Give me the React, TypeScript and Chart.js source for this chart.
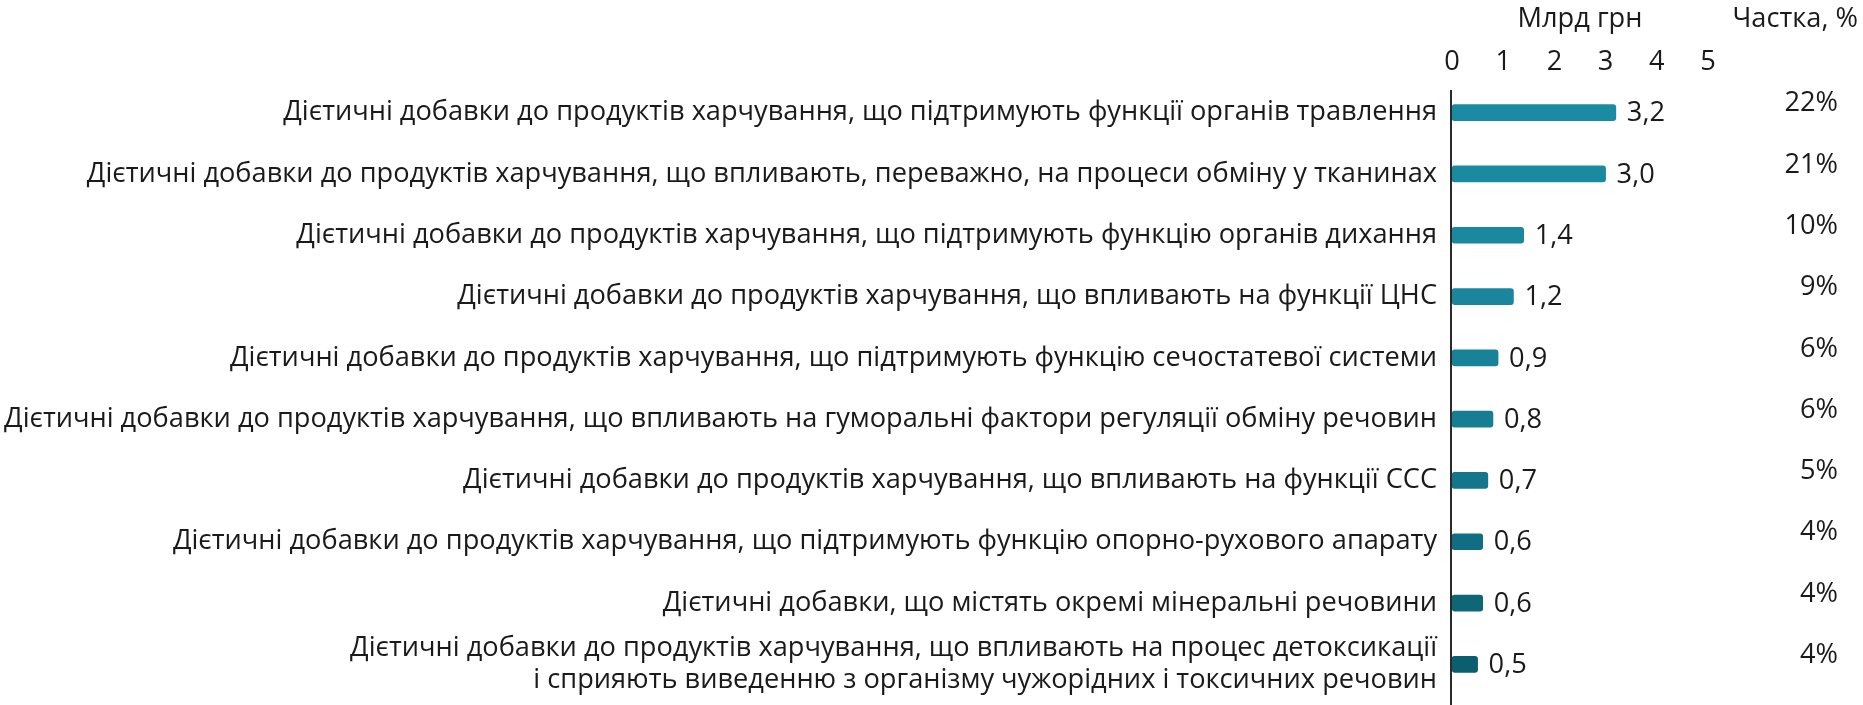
import React, { useEffect, useRef } from "react";
import { Chart, registerables } from "chart.js";

Chart.register(...registerables);

const categories: (string | string[])[] = [
  "Дієтичні добавки до продуктів харчування, що підтримують функції органів травлення",
  "Дієтичні добавки до продуктів харчування, що впливають, переважно, на процеси обміну у тканинах",
  "Дієтичні добавки до продуктів харчування, що підтримують функцію органів дихання",
  "Дієтичні добавки до продуктів харчування, що впливають на функції ЦНС",
  "Дієтичні добавки до продуктів харчування, що підтримують функцію сечостатевої системи",
  "Дієтичні добавки до продуктів харчування, що впливають на гуморальні фактори регуляції обміну речовин",
  "Дієтичні добавки до продуктів харчування, що впливають на функції ССС",
  "Дієтичні добавки до продуктів харчування, що підтримують функцію опорно-рухового апарату",
  "Дієтичні добавки, що містять окремі мінеральні речовини",
  [
    "Дієтичні добавки до продуктів харчування, що впливають на процес детоксикації",
    "і сприяють виведенню з організму чужорідних і токсичних речовин",
  ],
];

const valuesBn: number[] = [3.2, 3.0, 1.4, 1.2, 0.9, 0.8, 0.7, 0.6, 0.6, 0.5];
const sharePct: number[] = [22, 21, 10, 9, 6, 6, 5, 4, 4, 4];
const barColors: string[] = [
  "#1a8ba2",
  "#1a8aa1",
  "#1a889f",
  "#19869d",
  "#188298",
  "#167d93",
  "#14768b",
  "#116d81",
  "#0e6676",
  "#0b5e6e",
];
const xTicks: number[] = [0, 1, 2, 3, 4, 5];
const xTitle = "Млрд грн";
const shareTitle = "Частка, %";

const FONT = "'Open Sans', 'Noto Sans', sans-serif";
const FS = 27.2;
const TEXT = "#1a1a1a";

const W = 1863;
const H = 705;

const fmt = (v: number) => v.toFixed(1).replace(".", ",");

export default function App() {
  const ref = useRef<HTMLCanvasElement | null>(null);

  useEffect(() => {
    const canvas = ref.current;
    if (!canvas) return;

    const labelsPlugin = {
      id: "extraLabels",
      afterDatasetsDraw(chart: any) {
        const ctx = chart.ctx;
        const meta = chart.getDatasetMeta(0);
        const yScale = chart.scales.y;
        const area = chart.chartArea;
        ctx.save();
        ctx.strokeStyle = "#2a2a2a";
        ctx.lineWidth = 2;
        ctx.beginPath();
        ctx.moveTo(area.left - 1, area.top + 8);
        ctx.lineTo(area.left - 1, H);
        ctx.stroke();

        ctx.font = `${FS}px ${FONT}`;
        ctx.fillStyle = TEXT;
        ctx.textBaseline = "middle";
        meta.data.forEach((bar: any, i: number) => {
          ctx.textAlign = "left";
          ctx.fillText(fmt(valuesBn[i]), bar.x + 11, bar.y + 1);
          ctx.textAlign = "right";
          const y = yScale.getPixelForValue(i);
          ctx.fillText(`${sharePct[i]}%`, W - 25, y - 9);
        });
        ctx.textAlign = "right";
        ctx.fillText(shareTitle, W - 5, 19);
        ctx.restore();
      },
    };

    const chart = new Chart(canvas, {
      type: "bar",
      data: {
        labels: categories,
        datasets: [
          {
            data: valuesBn,
            backgroundColor: barColors,
            borderWidth: 0,
            borderRadius: 3,
            borderSkipped: false,
            barThickness: 16,
          },
        ],
      },
      options: {
        indexAxis: "y",
        responsive: false,
        animation: false,
        devicePixelRatio: 1,
        layout: { padding: { left: 0, right: 155, top: 0, bottom: 10 } },
        plugins: {
          legend: { display: false },
          tooltip: { enabled: false },
          title: { display: false },
        },
        scales: {
          x: {
            position: "top",
            min: 0,
            max: 5,
            afterBuildTicks: (scale: any) => {
              scale.ticks = xTicks.map((v) => ({ value: v }));
            },
            afterFit: (scale: any) => {
              scale.height = 82;
              scale.paddingLeft = 0;
              scale.paddingRight = 0;
            },
            grid: { display: false, drawTicks: false },
            border: { display: false },
            ticks: {
              padding: 3,
              color: TEXT,
              font: { family: FONT, size: FS },
              maxRotation: 0,
            },
            title: {
              display: true,
              text: xTitle,
              color: TEXT,
              font: { family: FONT, size: FS },
              padding: { top: 3, bottom: 0 },
            },
          },
          y: {
            afterFit: (scale: any) => {
              scale.width = 1452;
              scale.paddingTop = 0;
              scale.paddingBottom = 0;
            },
            grid: { display: false, drawTicks: false },
            border: { display: false },
            ticks: {
              padding: 15,
              color: TEXT,
              font: { family: FONT, size: FS, lineHeight: 1.2 },
              autoSkip: false,
            },
          },
        },
      },
      plugins: [labelsPlugin],
    });

    return () => {
      chart.destroy();
    };
  }, []);

  return (
    <div style={{ position: "absolute", left: 0, top: 0, width: W, height: H, background: "#fff" }}>
      <canvas ref={ref} width={W} height={H} style={{ width: W, height: H, display: "block" }} />
    </div>
  );
}
